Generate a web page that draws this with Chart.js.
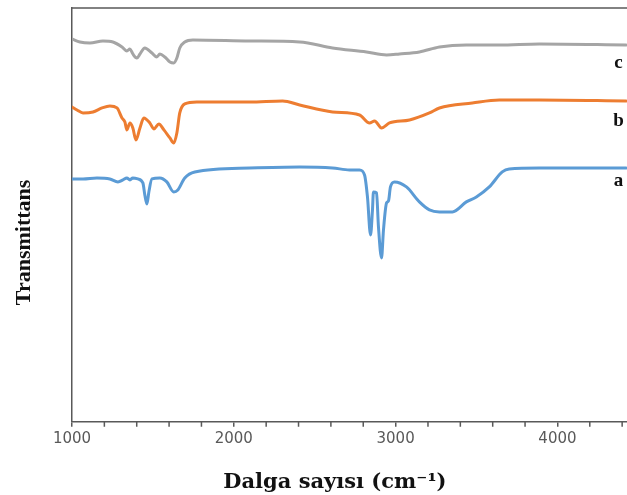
<!DOCTYPE html>
<html>
<head>
<meta charset="utf-8">
<script src="https://cdn.jsdelivr.net/npm/chart.js@4/dist/chart.umd.min.js"></script>
<style>
html,body{margin:0;padding:0;background:#fff;}
#wrap{width:627px;height:495px;}
</style>
</head>
<body>
<div id="wrap"><canvas id="c" width="627" height="495"></canvas></div>
<script>
// wavenumber (cm-1) / relative transmittance (offset, arbitrary units)
const waveA = [1000,1068,1154,1234,1284,1315,1339,1358,1376,1407,1438,1450,1463,1475,1494,1543,1586,1629,1654,1697,1759,2098,2407,2610,2715,2777,2808,2826,2845,2857,2863,2882,2894,2913,2925,2944,2956,2968,2993,3067,3147,3209,3271,3351,3437,3499,3579,3659,3702,3888,4424];
const seriesA = [243,243,244,243,240,242,244,242,244,243,239,227,218,230,243,244,240,230,232,244,250,254,255,254,252,252,247,225,187,212,230,229,195,164,192,219,221,235,240,235,220,212,210,210,220,225,235,250,253,254,254];

const waveB = [1000,1031,1068,1130,1185,1234,1278,1309,1327,1339,1358,1376,1395,1420,1444,1481,1506,1537,1568,1605,1629,1648,1666,1697,1771,2098,2302,2407,2610,2777,2839,2870,2913,2962,3086,3209,3271,3474,3641,3888,4424];
const seriesB = [315,312,309,310,314,316,314,304,300,292,299,294,282,294,304,299,293,298,292,284,279,289,309,318,320,320,321,317,310,307,299,301,294,299,302,309,314,319,322,322,321];

const waveC = [1000,1049,1111,1191,1253,1309,1339,1358,1376,1401,1420,1450,1494,1524,1543,1574,1605,1629,1648,1666,1697,1747,2098,2407,2610,2820,2944,3024,3147,3271,3437,3641,3888,4424];
const seriesC = [383,380,379,381,380,375,371,373,368,364,368,374,369,365,368,365,360,359,364,374,380,382,381,380,374,370,367,368,370,375,377,377,378,377];

const seriesNames = ['a','b','c'];
const seriesColors = ['#5B9BD5','#ED7D31','#A5A5A5'];
const labelPos = [[4378,241],[4378,301],[4378,359]];
const xTickValues = [1000,2000,3000,4000];
const xMinorStep = 200;

function pts(w,v){return w.map((x,i)=>({x:x,y:v[i]}));}

const edgePlugin = {
  id:'edge',
  afterDraw(chart){
    const {ctx, chartArea} = chart;
    const xs = chart.scales.x, ys = chart.scales.y;
    ctx.save();
    ctx.strokeStyle = '#595959';
    ctx.lineWidth = 1.5;
    ctx.beginPath();
    ctx.moveTo(chartArea.left, chartArea.top);
    ctx.lineTo(chartArea.right, chartArea.top);
    // minor tick marks along the x axis
    for (let v = xs.min; v <= xs.max; v += xMinorStep) {
      if (xTickValues.includes(Math.round(v))) continue;
      const px = xs.getPixelForValue(v);
      ctx.moveTo(px, chartArea.bottom);
      ctx.lineTo(px, chartArea.bottom + 5);
    }
    ctx.stroke();
    ctx.fillStyle = '#111';
    ctx.font = 'bold 19px "Liberation Serif", "Times New Roman", serif';
    ctx.textAlign = 'center';
    ctx.textBaseline = 'middle';
    seriesNames.forEach((n,i)=>{
      ctx.fillText(n, xs.getPixelForValue(labelPos[i][0]), ys.getPixelForValue(labelPos[i][1]));
    });
    ctx.restore();
  }
};

new Chart(document.getElementById('c'), {
  type:'line',
  data:{
    datasets:[
      {label:'a', data:pts(waveA,seriesA), borderColor:seriesColors[0]},
      {label:'b', data:pts(waveB,seriesB), borderColor:seriesColors[1]},
      {label:'c', data:pts(waveC,seriesC), borderColor:seriesColors[2]}
    ].map(d=>Object.assign(d,{borderWidth:3, pointRadius:0, cubicInterpolationMode:'monotone', fill:false, borderJoinStyle:'round', borderCapStyle:'round'}))
  },
  options:{
    responsive:false,
    animation:false,
    layout:{padding:{top:8,right:0,bottom:0,left:0}},
    plugins:{legend:{display:false}, tooltip:{enabled:false}},
    scales:{
      x:{
        type:'linear', min:1000, max:4430,
        afterBuildTicks:(axis)=>{ axis.ticks = xTickValues.map(v=>({value:v})); },
        grid:{display:true, drawOnChartArea:false, drawTicks:true, tickLength:5, color:'#595959', lineWidth:1.5},
        border:{display:true, color:'#595959', width:1.5},
        ticks:{autoSkip:false, maxRotation:0, padding:3, color:'#595959',
          font:{family:'"DejaVu Sans", sans-serif', size:15},
          callback:(v)=>String(Math.round(v))},
        title:{display:true, text:'Dalga sayısı (cm⁻¹)    ', color:'#111',
          font:{family:'"DejaVu Serif", serif', size:21, weight:'bold'},
          padding:{top:19,bottom:0}}
      },
      y:{
        type:'linear', min:0, max:414,
        grid:{display:false, drawTicks:false},
        border:{display:true, color:'#595959', width:1.5},
        ticks:{display:false},
        title:{display:true, text:'Transmittans\u2002\u2002\u2002\u2002\u2002', color:'#111',
          font:{family:'"Liberation Serif", "Times New Roman", serif', size:22, weight:'bold'},
          padding:{top:11,bottom:34.6}}
      }
    }
  },
  plugins:[edgePlugin]
});
</script>
</body>
</html>
